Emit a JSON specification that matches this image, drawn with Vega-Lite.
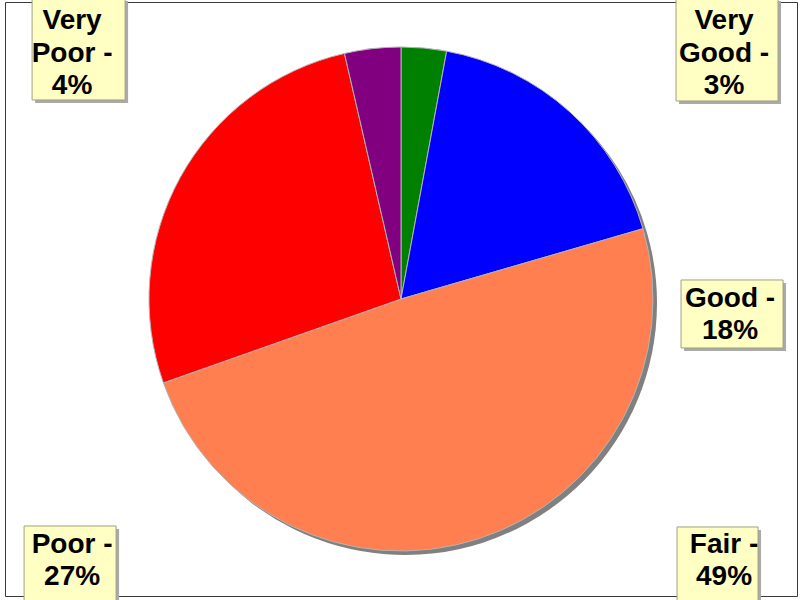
{
  "$schema": "https://vega.github.io/schema/vega-lite/v6.json",
  "width": 792,
  "height": 594,
  "autosize": "none",
  "padding": {"left": 5, "top": 2, "right": 3, "bottom": 4},
  "background": "white",
  "config": {"view": {"stroke": "#3a3a3a", "strokeWidth": 1}},
  "data": {
    "values": [
      {"label": "Very Good", "value": 2.9, "rank": 1, "text": "Very\nGood -\n3%", "side": "right", "row": "top"},
      {"label": "Good", "value": 17.6, "rank": 2, "text": "Good -\n18%", "side": "right", "row": "middle"},
      {"label": "Fair", "value": 49.1, "rank": 3, "text": "Fair -\n49%", "side": "right", "row": "bottom"},
      {"label": "Poor", "value": 26.8, "rank": 4, "text": "Poor -\n27%", "side": "left", "row": "bottom"},
      {"label": "Very Poor", "value": 3.6, "rank": 5, "text": "Very\nPoor -\n4%", "side": "left", "row": "top"}
    ]
  },
  "layer": [
    {
      "mark": {"type": "arc", "radius": 252, "fill": "#808080", "xOffset": 4, "yOffset": 4},
      "encoding": {
        "theta": {"field": "value", "type": "quantitative", "stack": true},
        "order": {"field": "rank", "type": "quantitative"}
      }
    },
    {
      "mark": {"type": "arc", "radius": 252, "stroke": "#b4b4b4", "strokeWidth": 1},
      "encoding": {
        "theta": {"field": "value", "type": "quantitative", "stack": true},
        "order": {"field": "rank", "type": "quantitative"},
        "color": {
          "field": "label",
          "type": "nominal",
          "scale": {
            "domain": ["Very Good", "Good", "Fair", "Poor", "Very Poor"],
            "range": ["#008000", "#0000FF", "#FF7F50", "#FF0000", "#800080"]
          },
          "legend": null
        }
      }
    },
    {
      "mark": {"type": "point", "filled": true, "size": 10000, "fill": "#aaaaaa", "opacity": 1, "xOffset": 3, "yOffset": 3},
      "encoding": {
        "x": {"field": "side", "type": "nominal", "scale": {"type": "point", "domain": ["left", "right"], "padding": 0.1074, "align": 0.479}, "axis": null},
        "y": {"field": "row", "type": "nominal", "scale": {"type": "point", "domain": ["top", "middle", "bottom"], "padding": 0.1624, "align": 0.578}, "axis": null},
        "shape": {
          "field": "label",
          "type": "nominal",
          "scale": {
            "domain": ["Very Good", "Good", "Fair", "Poor", "Very Poor"],
            "range": [
              "M-0.96,-1.04H1.08V1.02H-0.96Z",
              "M-0.86,-0.51H1.18V0.85H-0.86Z",
              "M-0.94,-0.68H0.68V0.8H-0.94Z",
              "M-0.96,-0.7H0.88V0.8H-0.96Z",
              "M-0.8,-1.04H1.06V1H-0.8Z"
            ]
          },
          "legend": null
        }
      }
    },
    {
      "mark": {"type": "point", "filled": true, "size": 10000, "fill": "#FFFFC4", "stroke": "#a0a080", "strokeWidth": 1, "opacity": 1},
      "encoding": {
        "x": {"field": "side", "type": "nominal", "axis": null},
        "y": {"field": "row", "type": "nominal", "axis": null},
        "shape": {"field": "label", "type": "nominal", "legend": null}
      }
    },
    {
      "transform": [{"filter": "datum.row == 'top'"}],
      "mark": {"type": "text", "font": "Liberation Sans", "fontWeight": "bold", "fontSize": 28, "lineHeight": 32.5, "lineBreak": "\n", "align": "center", "baseline": "middle", "color": "black", "dy": -28.5},
      "encoding": {
        "x": {"field": "side", "type": "nominal", "axis": null},
        "y": {"field": "row", "type": "nominal", "axis": null},
        "text": {"field": "text", "type": "nominal"}
      }
    },
    {
      "transform": [{"filter": "datum.row == 'middle'"}],
      "mark": {"type": "text", "font": "Liberation Sans", "fontWeight": "bold", "fontSize": 28, "lineHeight": 32.5, "lineBreak": "\n", "align": "center", "baseline": "middle", "color": "black", "dy": -6.5, "dx": 6},
      "encoding": {
        "x": {"field": "side", "type": "nominal", "axis": null},
        "y": {"field": "row", "type": "nominal", "axis": null},
        "text": {"field": "text", "type": "nominal"}
      }
    },
    {
      "transform": [{"filter": "datum.row == 'bottom'"}],
      "mark": {"type": "text", "font": "Liberation Sans", "fontWeight": "bold", "fontSize": 28, "lineHeight": 32.5, "lineBreak": "\n", "align": "center", "baseline": "middle", "color": "black", "dy": -16},
      "encoding": {
        "x": {"field": "side", "type": "nominal", "axis": null},
        "y": {"field": "row", "type": "nominal", "axis": null},
        "text": {"field": "text", "type": "nominal"}
      }
    }
  ]
}
